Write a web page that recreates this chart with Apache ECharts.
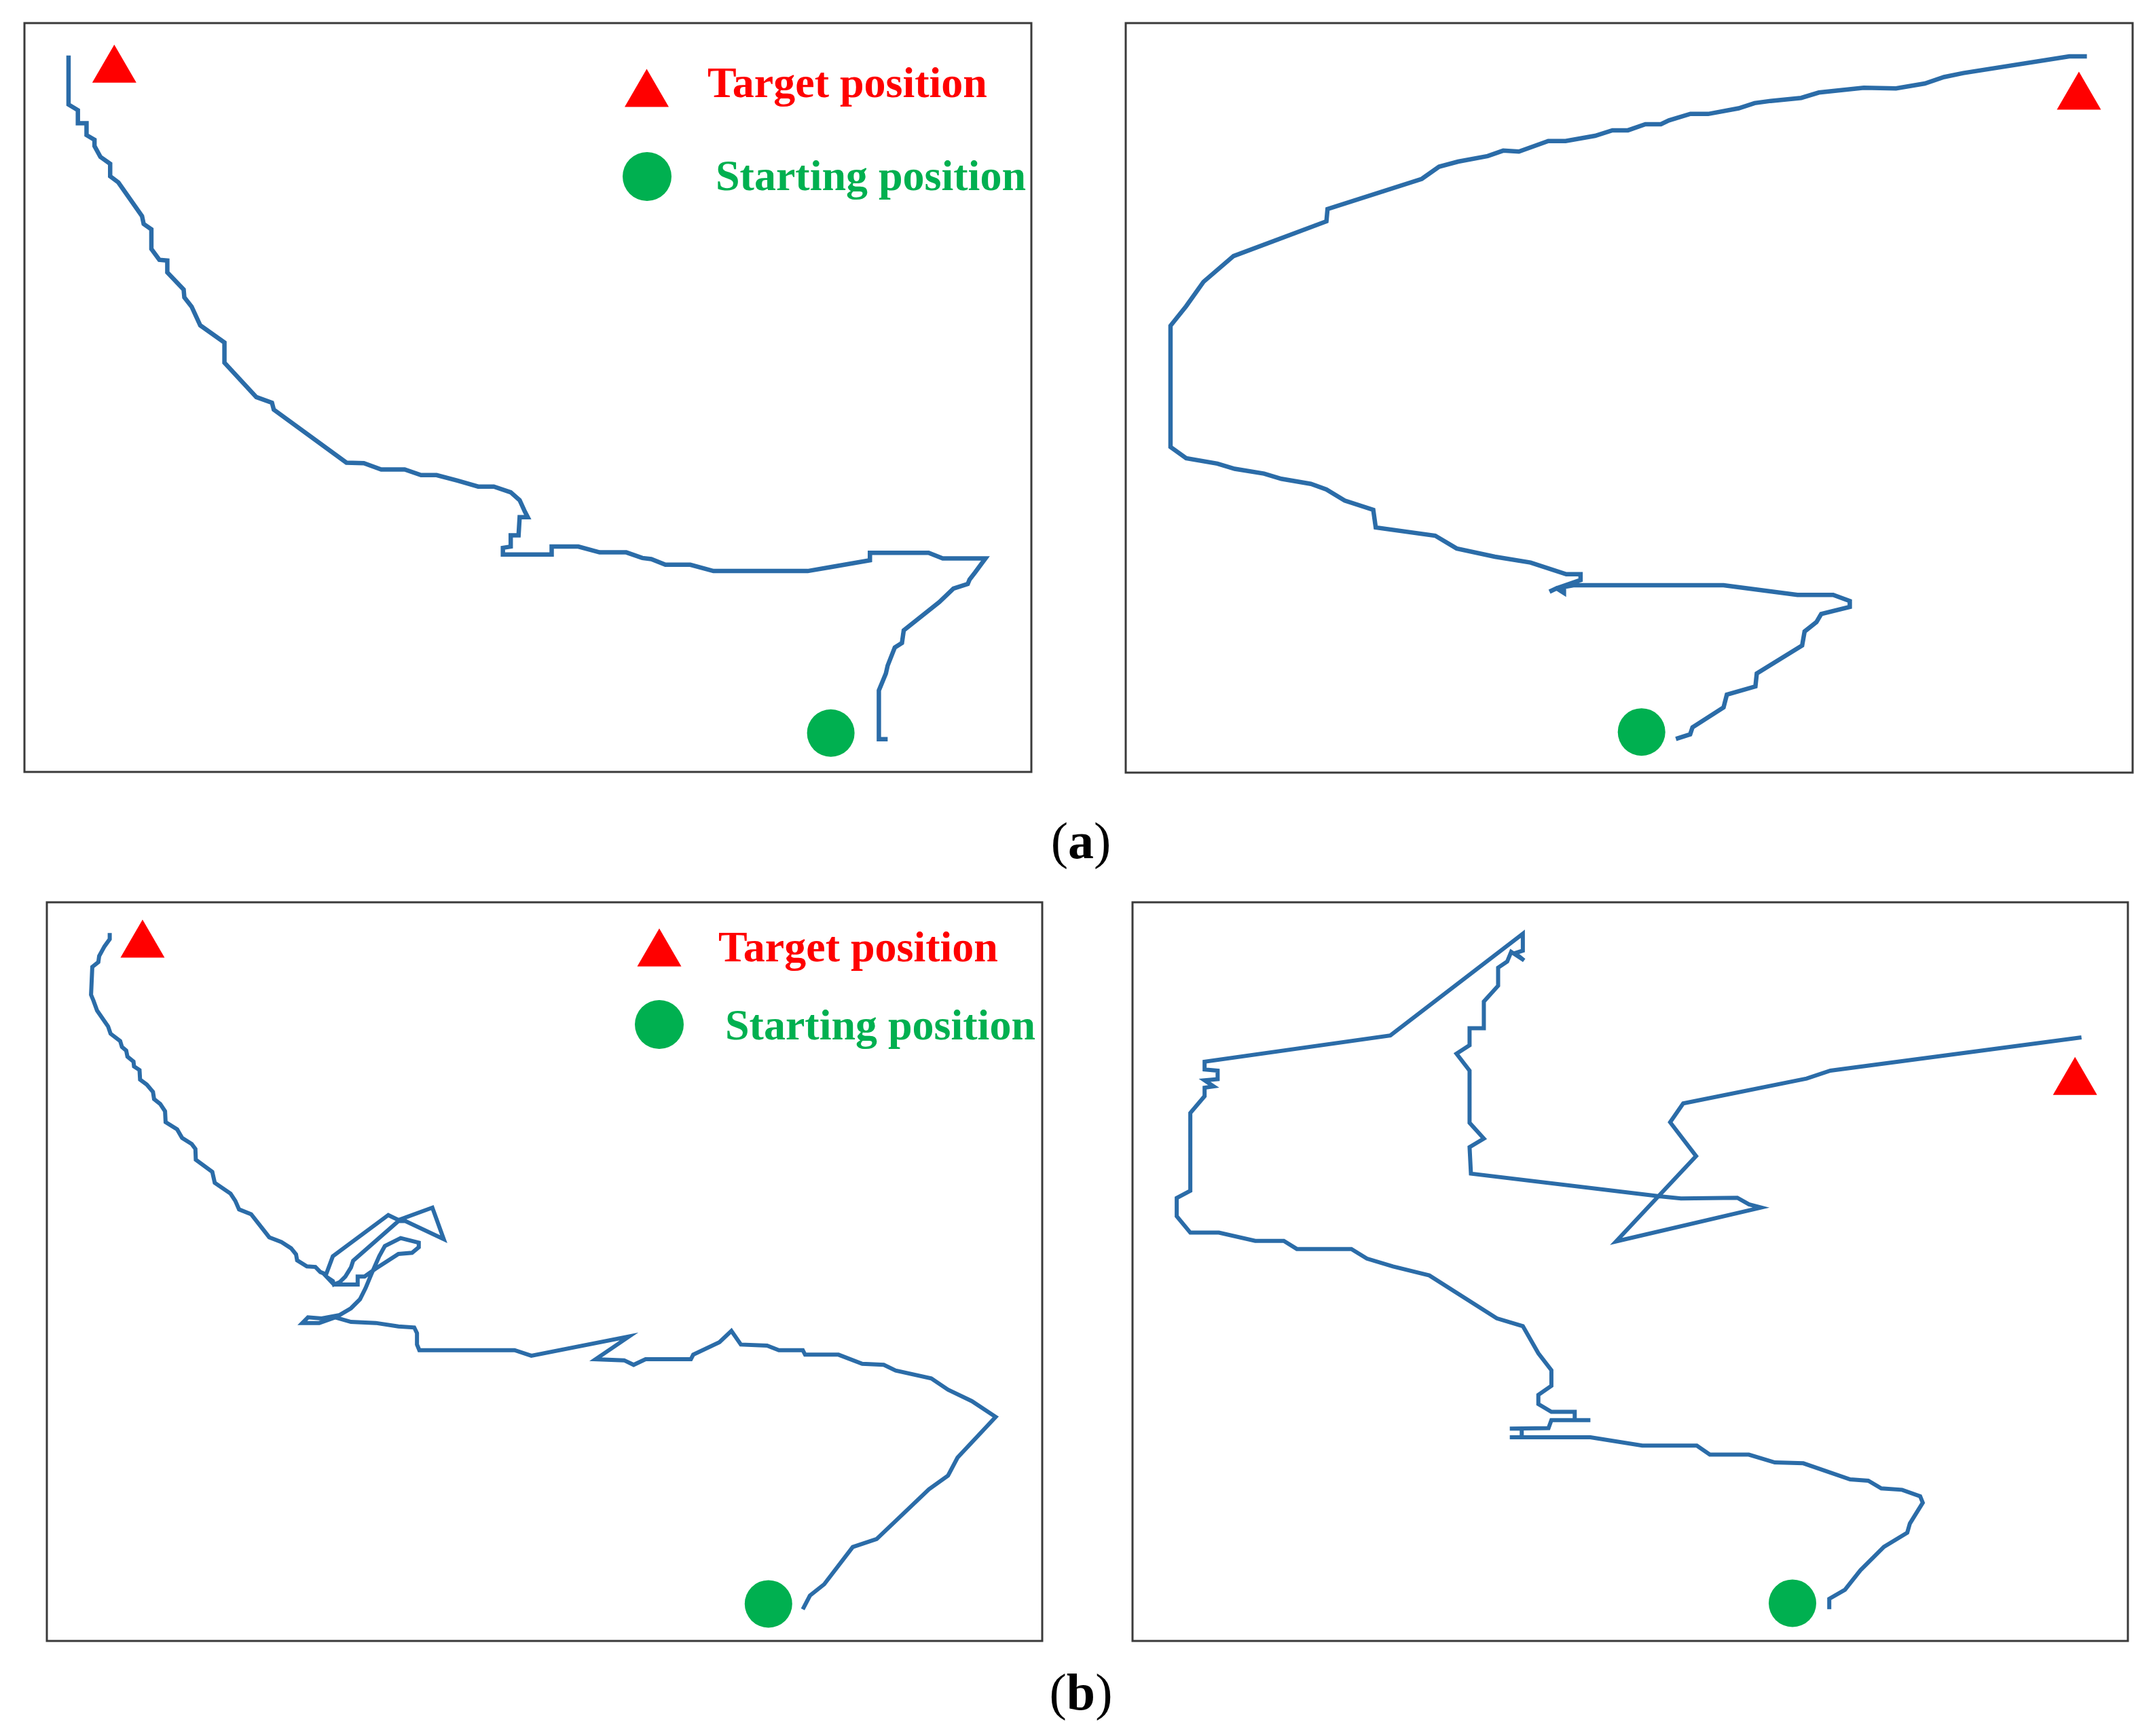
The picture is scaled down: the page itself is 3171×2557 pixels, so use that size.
<!DOCTYPE html>
<html><head><meta charset="utf-8">
<script src="https://cdn.jsdelivr.net/npm/echarts@6/dist/echarts.min.js"></script>
<style>html,body{margin:0;padding:0;background:#fff}#c{width:3171px;height:2557px}</style>
</head><body><div id="c"></div>
<script>
// ---- data (image units of the source figure; each panel has its own axes) ----
const pathA1 = [[50.1,40.6],[50.1,76.3],[56.9,80.4],[56.9,89.9],[63.2,89.9],[63.2,98.5],[69,101.9],[69,106.5],[73.3,114.4],[80.4,119.4],[80.4,128.5],[86.4,133],[103.6,157.5],[104.8,163.2],[110.4,167.1],[110.4,181.4],[116.2,189.3],[122,189.8],[122,198.4],[133.9,210.9],[134.4,216.6],[139.7,223.4],[146,237],[163.6,249.5],[163.6,264.2],[186.8,289.2],[198.2,293.3],[199.5,298.3],[252.4,336.9],[265.1,337.3],[277.7,341.9],[294.8,341.9],[306.7,346],[318,346],[333.2,350],[348.3,354.3],[359.7,354.3],[372,358.5],[378.5,364.2],[382.3,372.5],[384.4,376.6],[378.5,376.6],[377.7,389.8],[372,389.8],[372,398],[366.3,398.9],[366.3,403.8],[401.8,403.8],[401.8,398],[421.2,398],[436.7,402.2],[456.1,402.2],[467.8,406.3],[474.3,407.1],[484.6,411.2],[502.7,411.2],[519.6,415.8],[588.2,415.8],[605,412.9],[633.5,408],[633.5,402.5],[676.2,402.5],[686.5,406.6],[717.6,406.6],[709.9,417],[706,422],[704.7,425.2],[694.3,428.5],[684,438.4],[658.1,459],[656.8,468.1],[651.6,471.4],[646.4,484.6],[645.1,490.3],[640,502.7],[640,538.1],[646.4,538.1]];
const targetA1 = [[83.4,46.5]];
const startA1 = [[605,533.7]];

const pathA2 = [[1519.7,41.2],[1506.9,41.2],[1429.7,53.4],[1415.7,56.3],[1401.7,61],[1380.7,64.6],[1357.3,64.1],[1324.6,67.6],[1311.7,71.5],[1289.5,73.7],[1277.8,75.3],[1266.2,79.1],[1244,83.2],[1231.1,83.1],[1215.4,87.9],[1209.6,90.7],[1198.3,90.7],[1185.6,95.1],[1174.3,95.1],[1161.7,99.1],[1140.2,102.9],[1127.6,102.9],[1106.2,110.6],[1094.8,109.9],[1083.5,113.9],[1062,117.9],[1048.1,121.6],[1035.5,130.5],[966.9,152.5],[966.1,161.4],[898.5,186.7],[876.6,205.5],[864,223.2],[852.6,237.5],[852.6,325.8],[864,334],[886.7,337.9],[899.3,341.7],[920.7,345.2],[933.3,349],[954.8,352.7],[966.1,356.7],[979.4,364.8],[1000.2,371.6],[1002,384.4],[1045.3,390.4],[1060.9,399.7],[1088.7,405.7],[1114.7,410],[1140.7,418.5],[1151.1,418.5],[1151.1,422.7],[1133.7,428.7],[1128.5,431.2],[1133.7,428.7],[1139,432.1],[1139,427.8],[1145.9,426.5],[1255.2,426.5],[1309,433.5],[1335,433.5],[1347.1,438],[1347.1,442.3],[1326.3,447.4],[1322.8,453.4],[1314.2,460.2],[1312.4,470.4],[1279.4,490.8],[1278.4,500.2],[1257.6,506.2],[1255.2,515.5],[1232.6,530],[1230.9,535.1],[1220.5,538.5]];
const targetA2 = [[1513.9,66.2]];
const startA2 = [[1195.5,533.4]];

const pathB1 = [[79.8,679.4],[79.8,683.8],[76,689.1],[72.1,696.2],[71.5,700.6],[67.1,704.1],[66.2,724.4],[68,728.8],[70.6,735.9],[78.6,747.4],[80.4,752.7],[87.4,758],[88.7,762.4],[91.8,765],[92.7,769.4],[97.1,773],[97.5,776.5],[101.5,779.2],[101.9,786.2],[106.8,789.8],[111.3,795.1],[112.1,800.3],[116.6,803.9],[120.1,809.2],[120.5,817.1],[128.9,822.4],[132.5,828.6],[139.5,833],[142.2,836.6],[142.5,844.5],[154.5,853.3],[156.3,861.3],[167.8,869.2],[171.3,874.5],[174,880.7],[182.8,884.2],[196,901],[204.9,904.5],[211.9,909],[215.5,913.4],[216.3,917.8],[223.4,922.2],[229.6,922.6],[233.2,926.3],[237.4,928],[242.3,914.8],[282.7,884.8],[290.1,888.4],[314.8,879.4],[323.1,902.4],[295.1,889.2],[290.1,889.2],[257.1,918.1],[255.5,923],[251.4,929.6],[247.3,933.7],[243.1,935.4],[242.3,932.9],[238,930],[243.1,935.4],[257.1,935.4],[260.4,935.4],[260.4,929.6],[265.4,929.6],[273.6,923.8],[290.1,913.1],[300,912.3],[304.9,908.2],[304.9,904.9],[291.7,901.6],[280.2,907.4],[276.1,914.8],[270.3,928],[266.2,937.9],[262.1,946.1],[255.5,952.7],[247.3,957.6],[234.1,960.1],[224.2,959.3],[220.1,963.4],[232.4,963.4],[244,959.3],[255.5,962.6],[273.6,963.4],[290.1,965.9],[301.6,966.7],[303.6,970.8],[303.6,979.1],[305.3,983.2],[374.7,983.2],[386.9,987.3],[458,973.3],[433.7,989.8],[454.5,990.6],[461.4,993.9],[470.1,989.8],[503.1,989.8],[504.8,986.5],[523.9,977.4],[532.6,969.2],[539.5,979.1],[558.6,979.9],[567.2,983.2],[584.6,983.2],[586.3,986.5],[610.6,986.5],[627.9,993.1],[643.6,993.9],[652.2,998],[678.2,1003.8],[690.4,1012],[707.7,1020.3],[725.1,1031.8],[697.3,1061.5],[690.4,1074.6],[676.5,1084.5],[657.4,1102.7],[638.4,1120.8],[621,1126.6],[600.2,1153.7],[589.8,1162],[584.6,1171.9]];
const targetB1 = [[103.7,683.5]];
const startB1 = [[559.6,1168]];

const pathB2 = [[1516.2,755.4],[1333.3,779.6],[1316,785.4],[1226.1,803.5],[1216.6,817.2],[1235.5,841.9],[1177.2,904],[1282.8,879.3],[1274,877],[1265.5,872.2],[1224.5,872.7],[1208.7,871.1],[1071.5,854.6],[1070.5,835.3],[1080.9,829.1],[1070.5,817.6],[1070.5,779.6],[1061,767.3],[1070.5,761.1],[1070.5,748.7],[1080.9,748.7],[1080.9,729.3],[1091.3,717.8],[1091.3,704.6],[1097.9,700.2],[1100.8,693.1],[1110.2,699.3],[1103.6,694],[1109.3,692.2],[1109.3,679.9],[1012.8,754],[877.5,773.1],[877.5,778.8],[887,779.6],[887,785.8],[877.5,786.7],[884.1,791.1],[877.5,792],[877.5,798.2],[867.1,810.5],[867.1,867.1],[857.2,872.4],[857.2,885.6],[867.1,897.6],[887.9,897.6],[914.4,903.6],[935.2,903.6],[944.7,909.5],[984.4,909.5],[995.7,916.5],[1014.7,922.2],[1041.2,928.8],[1090.3,960],[1109.3,965.7],[1120.6,985.5],[1130.1,997.8],[1130.1,1009.2],[1120.6,1015.8],[1120.6,1022.4],[1130.1,1028.1],[1147.1,1028.1],[1147.1,1034.2],[1158.5,1034.2],[1130.1,1034.2],[1128,1040],[1099.8,1040.4],[1108.5,1040.4],[1108.5,1046.7],[1099.8,1046.7],[1158.5,1046.7],[1196.3,1052.7],[1236,1052.7],[1245.5,1059.3],[1273.9,1059.3],[1292.8,1065],[1313.6,1065.6],[1347.7,1077.3],[1360.9,1078.3],[1370.4,1083.9],[1385.5,1084.9],[1398.7,1089.6],[1400.6,1094.3],[1391.2,1109.5],[1389.3,1116.1],[1372.3,1126.5],[1355.2,1143.5],[1343.9,1157.7],[1332.5,1164.3],[1332.5,1171.9]];
const targetB2 = [[1511.5,783.5]];
const startB2 = [[1305.7,1167.5]];

const legendLabels = ['Target position', 'Starting position'];
const captionLetters = ['a', 'b'];

// ---- layout ----
const LINE = '#2b6ca8', RED = '#ff0000', GREEN = '#00b050';
const panels = [
  {left:36,   top:34,   width:1483, height:1103, xr:[18,751],   yr:[17,562],   path:pathA1, target:targetA1, start:startA1, lw:6.5},
  {left:1658, top:34,   width:1483, height:1104, xr:[820,1553], yr:[17,563],   path:pathA2, target:targetA2, start:startA2, lw:6.5},
  {left:69,   top:1329, width:1466, height:1088, xr:[34,759],   yr:[657,1195], path:pathB1, target:targetB1, start:startB1, lw:6},
  {left:1668, top:1329, width:1466, height:1088, xr:[825,1550], yr:[657,1195], path:pathB2, target:targetB2, start:startB2, lw:6}
];

const grid = [], xAxis = [], yAxis = [], series = [];
panels.forEach((p, i) => {
  grid.push({left:p.left, top:p.top, width:p.width, height:p.height, show:true,
    borderColor:'#3a3a3a', borderWidth:3, backgroundColor:'transparent', containLabel:false});
  xAxis.push({type:'value', gridIndex:i, min:p.xr[0], max:p.xr[1], show:false});
  yAxis.push({type:'value', gridIndex:i, min:p.yr[0], max:p.yr[1], inverse:true, show:false});
  series.push({type:'line', xAxisIndex:i, yAxisIndex:i, data:p.path, showSymbol:false, symbol:'none',
    lineStyle:{color:LINE, width:p.lw, join:'miter', opacity:1}, z:2});
  series.push({type:'scatter', name:legendLabels[0], xAxisIndex:i, yAxisIndex:i, data:p.target,
    symbol:'triangle', symbolSize:[65,56], itemStyle:{color:RED, opacity:1}, z:3, clip:false});
  series.push({type:'scatter', name:legendLabels[1], xAxisIndex:i, yAxisIndex:i, data:p.start,
    symbol:'circle', symbolSize:70, itemStyle:{color:GREEN, opacity:1}, z:3, clip:false});
});

// legend keys (drawn inside the left panels)
const legendPlaces = [
  {tx:952.5, ty:129.5, cx:953, cy:260, t1x:1042, t1y:126.5, t2x:1054, t2y:263.5},
  {tx:971,   ty:1395.5, cx:971, cy:1509, t1x:1058, t1y:1399, t2x:1068, t2y:1514.5}
];
const graphic = [];
const FONT = '"Liberation Serif", "Times New Roman", serif';
legendPlaces.forEach(L => {
  const w = 65, h = 56;
  graphic.push({type:'polygon', shape:{points:[[L.tx, L.ty-h/2],[L.tx+w/2, L.ty+h/2],[L.tx-w/2, L.ty+h/2]]},
    style:{fill:RED}, z:10});
  graphic.push({type:'circle', shape:{cx:L.cx, cy:L.cy, r:36}, style:{fill:GREEN}, z:10});
  graphic.push({type:'text', x:L.t1x, y:L.t1y, style:{text:legendLabels[0], fill:RED, fontFamily:FONT,
    fontSize:64, fontWeight:'bold', align:'left', verticalAlign:'middle'}, z:10});
  graphic.push({type:'text', x:L.t2x, y:L.t2y, style:{text:legendLabels[1], fill:GREEN, fontFamily:FONT,
    fontSize:64, fontWeight:'bold', align:'left', verticalAlign:'middle'}, z:10});
});
// captions
[[1592, 1244], [1592, 2498]].forEach((pos, k) => {
  graphic.push({type:'text', x:pos[0], y:pos[1], style:{
    text:'{p|(}{b|' + captionLetters[k] + '}{p|)}', align:'center', verticalAlign:'middle', fill:'#000',
    rich:{p:{fontFamily:FONT, fontSize:76, fontWeight:'normal', fill:'#000'},
          b:{fontFamily:FONT, fontSize:76, fontWeight:'bold', fill:'#000'}}}, z:10});
});

const chart = echarts.init(document.getElementById('c'), null, {renderer:'canvas'});
chart.setOption({animation:false, backgroundColor:'#fff', grid, xAxis, yAxis, series, graphic});
</script></body></html>
